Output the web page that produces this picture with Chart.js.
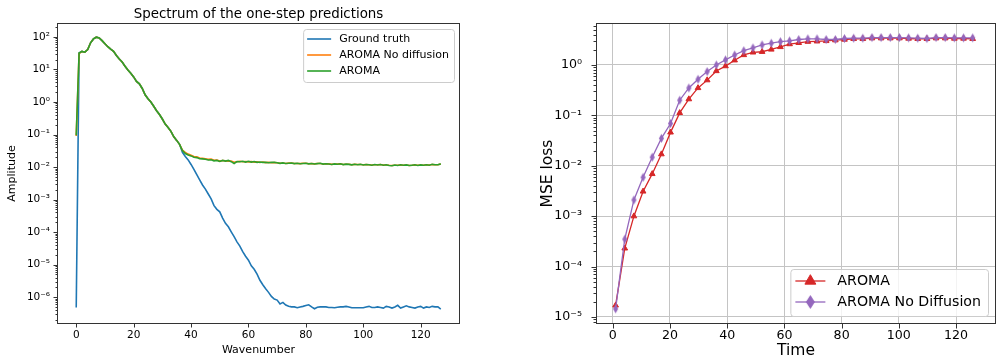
<!DOCTYPE html>
<html>
<head>
<meta charset="utf-8">
<script src="https://cdn.jsdelivr.net/npm/chart.js@4.4.0/dist/chart.umd.min.js"></script>
<style>
    html, body { margin: 0; padding: 0; background: #fff; overflow: hidden; }
    body { width: 997px; height: 361px; position: relative; }
    #specBox { position: absolute; left: 0; top: 0; }
    #lossBox { position: absolute; left: 520px; top: 0; }
</style>
</head>
<body>
<div id="specBox"><canvas id="spectrumChart" width="470" height="361"></canvas></div>
<div id="lossBox"><canvas id="lossChart" width="480" height="361"></canvas></div>
<script>
// ---- left panel: spectrum of the one-step predictions ----
const wavenumbers = Array.from({ length: 128 }, (_, i) => i);

const groundTruth = [
    4.8e-7, 32, 36, 34, 41, 66, 87, 98, 93, 77,
    62, 50, 42, 36, 27, 21, 17, 12.6, 9.6, 7.7,
    5.9, 4.3, 3.6, 2.6, 1.67, 1.26, 1.0, 0.74, 0.54, 0.41,
    0.30, 0.21, 0.165, 0.125, 0.085, 0.066, 0.05, 0.028, 0.021, 0.0166,
    0.012, 0.0085, 0.0058, 0.0040, 0.0028, 0.0021, 0.00148, 0.00105, 6.5e-4, 5.0e-4,
    4.2e-4, 2.7e-4, 1.85e-4, 1.45e-4, 1.02e-4, 7.2e-5, 5.0e-5, 3.7e-5, 2.5e-5, 1.8e-5,
    1.37e-5, 9.2e-6, 7.2e-6, 5.1e-6, 3.3e-6, 2.4e-6, 1.8e-6, 1.4e-6, 1.05e-6, 8.7e-7,
    8.1e-7, 6.2e-7, 6.9e-7, 5.7e-7, 5.2e-7, 5.0e-7, 5.0e-7, 4.7e-7, 5.0e-7, 5.2e-7,
    5.5e-7, 5.8e-7, 5.0e-7, 4.4e-7, 4.9e-7, 5.0e-7, 5.0e-7, 5.0e-7, 4.8e-7, 4.8e-7,
    4.7e-7, 4.9e-7, 5.0e-7, 5.0e-7, 5.2e-7, 5.0e-7, 4.7e-7, 4.7e-7, 4.7e-7, 4.7e-7,
    4.7e-7, 5.0e-7, 5.2e-7, 4.8e-7, 4.8e-7, 5.0e-7, 4.8e-7, 4.6e-7, 5.2e-7, 5.0e-7,
    4.6e-7, 5.0e-7, 5.6e-7, 4.6e-7, 5.0e-7, 5.4e-7, 5.0e-7, 4.8e-7, 4.6e-7, 5.0e-7,
    5.2e-7, 4.6e-7, 5.0e-7, 4.8e-7, 5.2e-7, 5.0e-7, 5.0e-7, 4.3e-7
];

const aromaNoDiffusion = [
    0.09, 31, 36, 34, 41, 66, 87, 98, 93, 77,
    62, 50, 42, 36, 27, 21, 17, 12.6, 9.6, 7.7,
    5.9, 4.3, 3.6, 2.6, 1.67, 1.26, 1.0, 0.74, 0.54, 0.41,
    0.30, 0.21, 0.165, 0.125, 0.085, 0.066, 0.05, 0.033, 0.028, 0.025,
    0.023, 0.021, 0.0205, 0.019, 0.0185, 0.018, 0.0172, 0.0176, 0.0162, 0.0165,
    0.0152, 0.0158, 0.0155, 0.0150, 0.0152, 0.0140, 0.0146, 0.0150, 0.0146, 0.0148,
    0.0144, 0.0147, 0.0142, 0.0144, 0.0138, 0.0142, 0.0137, 0.0140, 0.0136, 0.0138,
    0.0135, 0.0131, 0.0133, 0.0129, 0.0132, 0.0132, 0.0128, 0.0129, 0.0127, 0.0130,
    0.0130, 0.0126, 0.0127, 0.0125, 0.0128, 0.0129, 0.0124, 0.0125, 0.0125, 0.0121,
    0.0124, 0.0123, 0.0125, 0.0120, 0.0122, 0.0122, 0.0118, 0.0121, 0.0119, 0.0120,
    0.0117, 0.0119, 0.0118, 0.0115, 0.0118, 0.0117, 0.0119, 0.0115, 0.0116, 0.0113,
    0.0111, 0.0114, 0.0113, 0.0116, 0.0114, 0.0115, 0.0112, 0.0113, 0.0116, 0.0113,
    0.0115, 0.0114, 0.0117, 0.0115, 0.0120, 0.0118, 0.0117, 0.0124
];

const aroma = [
    0.095, 32, 36, 34, 41, 66, 87, 98, 93, 77,
    62, 50, 42, 36, 27, 21, 17, 12.6, 9.6, 7.7,
    5.9, 4.3, 3.6, 2.6, 1.67, 1.26, 1.0, 0.74, 0.54, 0.41,
    0.30, 0.21, 0.165, 0.125, 0.085, 0.066, 0.05, 0.032, 0.026, 0.0235,
    0.022, 0.020, 0.0195, 0.018, 0.0178, 0.0174, 0.0165, 0.0168, 0.0155, 0.0160,
    0.0148, 0.0160, 0.0152, 0.0160, 0.0146, 0.0129, 0.0148, 0.0146, 0.0150, 0.0142,
    0.0150, 0.0142, 0.0148, 0.0139, 0.0142, 0.0139, 0.0139, 0.0136, 0.0139, 0.0139,
    0.0136, 0.0130, 0.0134, 0.0128, 0.0131, 0.0133, 0.0127, 0.0130, 0.0126, 0.0129,
    0.0131, 0.0125, 0.0128, 0.0124, 0.0127, 0.0130, 0.0123, 0.0126, 0.0124, 0.0120,
    0.0125, 0.0122, 0.0126, 0.0119, 0.0123, 0.0121, 0.0117, 0.0122, 0.0118, 0.0121,
    0.0116, 0.0120, 0.0117, 0.0114, 0.0119, 0.0116, 0.0120, 0.0114, 0.0117, 0.0112,
    0.0110, 0.0115, 0.0112, 0.0117, 0.0113, 0.0116, 0.0111, 0.0114, 0.0117, 0.0112,
    0.0116, 0.0113, 0.0118, 0.0114, 0.0121, 0.0117, 0.0118, 0.0125
];

const specXTicks = [0, 20, 40, 60, 80, 100, 120];
const specYTicks = [1e-6, 1e-5, 1e-4, 1e-3, 1e-2, 1e-1, 1, 10, 100];

// ---- right panel: MSE loss over time ----
const timeSteps = [
    1.0, 4.2, 7.4, 10.6, 13.8, 17.0, 20.2, 23.4, 26.6, 29.8,
    33.0, 36.2, 39.4, 42.6, 45.8, 49.0, 52.2, 55.4, 58.6, 61.8,
    65.0, 68.2, 71.4, 74.6, 77.8, 81.0, 84.2, 87.4, 90.6, 93.8,
    97.0, 100.2, 103.4, 106.6, 109.8, 113.0, 116.2, 119.4, 122.6, 125.8
];

const lossAroma = [
    1.7e-5, 2.3e-4, 1.0e-3, 3.1e-3, 6.9e-3, 1.7e-2, 4.6e-2, 0.112, 0.21, 0.35,
    0.50, 0.76, 0.95, 1.24, 1.58, 1.78, 1.83, 2.03, 2.28, 2.6,
    2.75, 2.9, 2.95, 3.0, 3.1, 3.2, 3.3, 3.3, 3.4, 3.4,
    3.4, 3.4, 3.35, 3.3, 3.3, 3.4, 3.4, 3.35, 3.35, 3.3
];

const lossNoDiffusion = [
    1.45e-5, 3.5e-4, 2.1e-3, 5.9e-3, 1.48e-2, 3.5e-2, 6.9e-2, 0.20, 0.35, 0.52,
    0.74, 1.0, 1.26, 1.58, 1.92, 2.18, 2.5, 2.7, 2.9, 3.0,
    3.2, 3.3, 3.3, 3.2, 3.2, 3.35, 3.4, 3.4, 3.5, 3.5,
    3.5, 3.5, 3.45, 3.4, 3.35, 3.5, 3.5, 3.45, 3.45, 3.45
];

const lossXTicks = [0, 20, 40, 60, 80, 100, 120];
const lossYTicks = [1e-5, 1e-4, 1e-3, 1e-2, 1e-1, 1];

Chart.defaults.font.family = "'DejaVu Sans', sans-serif";
Chart.defaults.color = '#000';

const SUP = { '0': '⁰', '1': '¹', '2': '²', '3': '³', '4': '⁴', '5': '⁵', '6': '⁶', '7': '⁷', '8': '⁸', '9': '⁹', '-': '⁻' };
function powerLabel(v) {
    const e = Math.round(Math.log10(v));
    return '10' + String(e).split('').map(c => SUP[c]).join('');
}

function thinDiamond(color, w, h) {
    const c = document.createElement('canvas');
    c.width = w + 2;
    c.height = h + 2;
    const g = c.getContext('2d');
    g.beginPath();
    g.moveTo(c.width / 2, 1);
    g.lineTo(w + 1, c.height / 2);
    g.lineTo(c.width / 2, h + 1);
    g.lineTo(1, c.height / 2);
    g.closePath();
    g.fillStyle = color;
    g.fill();
    return c;
}

function pts(xs, ys) {
    return xs.map((x, i) => ({ x: x, y: ys[i] }));
}

// spines, outward tick marks and log minor ticks
const axisFrame = {
    id: 'axisFrame',
    afterDatasetsDraw(chart, args, o) {
        const { ctx, chartArea: a, scales } = chart;
        const L = Math.round(a.left) - 0.5, R = Math.round(a.right) + 0.5;
        const T = Math.round(a.top) - 0.5, B = Math.round(a.bottom) + 0.5;
        ctx.save();
        ctx.strokeStyle = o.color;
        ctx.lineWidth = 1;
        ctx.strokeRect(L, T, R - L, B - T);
        ctx.beginPath();
        scales.x.ticks.forEach(t => {
            const px = Math.round(scales.x.getPixelForValue(t.value)) + 0.5;
            ctx.moveTo(px, B); ctx.lineTo(px, B + o.major);
        });
        scales.y.ticks.forEach(t => {
            const py = Math.round(scales.y.getPixelForValue(t.value)) + 0.5;
            ctx.moveTo(L, py); ctx.lineTo(L - o.major, py);
        });
        const y = scales.y;
        for (let e = Math.floor(Math.log10(y.min)); e <= Math.ceil(Math.log10(y.max)); e++) {
            for (let m = 2; m <= 9; m++) {
                const v = m * Math.pow(10, e);
                if (v < y.min || v > y.max) continue;
                const py = Math.round(y.getPixelForValue(v)) + 0.5;
                ctx.moveTo(L, py); ctx.lineTo(L - o.minor, py);
            }
        }
        ctx.stroke();
        ctx.restore();
    }
};

// matplotlib-like legend drawn inside the axes
const boxLegend = {
    id: 'boxLegend',
    afterDraw(chart, args, o) {
        const { ctx, chartArea: a } = chart;
        ctx.save();
        ctx.font = o.fontSize + "px 'DejaVu Sans'";
        const tw = Math.max(...o.items.map(it => ctx.measureText(it.label).width));
        const w = o.padLeft + o.lineLen + o.gap + tw + o.padRight;
        const h = o.padTop + o.rowH * (o.items.length - 1) + o.padBottom;
        const x0 = a.right - o.margin - w;
        const y0 = o.corner === 'top' ? a.top + o.margin : a.bottom - o.margin - h;
        ctx.beginPath();
        ctx.roundRect(x0 + 0.5, y0 + 0.5, w, h, 3);
        ctx.fillStyle = 'rgba(255,255,255,0.8)';
        ctx.fill();
        ctx.strokeStyle = '#cccccc';
        ctx.lineWidth = 1;
        ctx.stroke();
        o.items.forEach((it, i) => {
            const cy = y0 + o.padTop + i * o.rowH;
            const lx = x0 + o.padLeft;
            ctx.strokeStyle = it.color;
            ctx.lineWidth = o.lineWidth;
            ctx.beginPath();
            ctx.moveTo(lx, cy); ctx.lineTo(lx + o.lineLen, cy);
            ctx.stroke();
            if (it.marker) {
                ctx.fillStyle = it.color;
                ctx.strokeStyle = it.color;
                ctx.lineWidth = 1;
                Chart.helpers.drawPoint(ctx, { pointStyle: it.marker, radius: it.radius || 5, rotation: 0, borderWidth: 1 }, lx + o.lineLen / 2, cy);
            }
            ctx.fillStyle = '#000';
            ctx.textBaseline = 'middle';
            ctx.textAlign = 'left';
            ctx.fillText(it.label, lx + o.lineLen + o.gap, cy);
        });
        ctx.restore();
    }
};

function createSpectrumChart() {
    const canvas = document.getElementById('spectrumChart');
    new Chart(canvas.getContext('2d'), {
        type: 'line',
        data: {
            datasets: [
                { label: 'Ground truth', data: pts(wavenumbers, groundTruth), borderColor: '#1f77b4', order: 2 },
                { label: 'AROMA No diffusion', data: pts(wavenumbers, aromaNoDiffusion), borderColor: '#ff7f0e', order: 1 },
                { label: 'AROMA', data: pts(wavenumbers, aroma), borderColor: '#2ca02c', order: 0 }
            ]
        },
        options: {
            responsive: false,
            animation: false,
            layout: { padding: { top: 24, right: 11, left: 0, bottom: 0 } },
            elements: { point: { radius: 0 }, line: { borderWidth: 1.6, tension: 0 } },
            plugins: {
                legend: { display: false },
                tooltip: { enabled: false },
                title: { display: false },
                axisFrame: { color: '#333', major: 4, minor: 2 },
                boxLegend: {
                    corner: 'top', margin: 5, fontSize: 11, padLeft: 4, padRight: 5, lineLen: 24, gap: 8,
                    padTop: 10, padBottom: 11, rowH: 16, lineWidth: 1.6,
                    items: [
                        { label: 'Ground truth', color: '#1f77b4' },
                        { label: 'AROMA No diffusion', color: '#ff7f0e' },
                        { label: 'AROMA', color: '#2ca02c' }
                    ]
                }
            },
            scales: {
                x: {
                    type: 'linear', min: -6.35, max: 133.35,
                    afterBuildTicks: s => { s.ticks = specXTicks.map(v => ({ value: v })); },
                    afterFit: s => { s.height = 38; },
                    grid: { display: false, drawTicks: false },
                    border: { display: false },
                    ticks: { padding: 6, font: { size: 10.5 }, maxRotation: 0 },
                    title: { display: true, text: 'Wavenumber', font: { size: 11 }, padding: { top: 0, bottom: 4 } }
                },
                y: {
                    type: 'logarithmic', min: 1.6e-7, max: 250,
                    afterBuildTicks: s => { s.ticks = specYTicks.map(v => ({ value: v })); },
                    afterFit: s => { s.width = 58; },
                    grid: { display: false, drawTicks: false },
                    border: { display: false },
                    ticks: { padding: 8, font: { size: 10.5 }, callback: v => powerLabel(v) },
                    title: { display: true, text: 'Amplitude', font: { size: 11 }, padding: { top: 6, bottom: 0 } }
                }
            }
        },
        plugins: [axisFrame, boxLegend, {
            id: 'axesTitle',
            afterDraw(chart) {
                const { ctx, chartArea: a } = chart;
                ctx.save();
                ctx.font = "13.4px 'DejaVu Sans'";
                ctx.fillStyle = '#000';
                ctx.textAlign = 'center';
                ctx.textBaseline = 'alphabetic';
                ctx.fillText('Spectrum of the one-step predictions', (a.left + a.right) / 2, a.top - 6);
                ctx.restore();
            }
        }]
    });
}

function createLossChart() {
    const canvas = document.getElementById('lossChart');
    const diamondPlot = thinDiamond('#9467bd', 5, 9);
    const diamondLegend = thinDiamond('#9467bd', 9, 14);
    new Chart(canvas.getContext('2d'), {
        type: 'line',
        data: {
            datasets: [
                {
                    label: 'AROMA', data: pts(timeSteps, lossAroma), borderColor: '#d62728', backgroundColor: '#d62728',
                    pointStyle: 'triangle', pointRadius: 3.3, pointBorderColor: '#d62728', pointBackgroundColor: '#d62728', order: 1
                },
                {
                    label: 'AROMA No Diffusion', data: pts(timeSteps, lossNoDiffusion), borderColor: '#9467bd', backgroundColor: '#9467bd',
                    pointStyle: diamondPlot, pointRadius: 4, order: 0
                }
            ]
        },
        options: {
            responsive: false,
            animation: false,
            layout: { padding: { top: 24, right: 2, left: 0, bottom: 0 } },
            elements: { line: { borderWidth: 1.3, tension: 0 }, point: { borderWidth: 1 } },
            plugins: {
                legend: { display: false },
                tooltip: { enabled: false },
                axisFrame: { color: '#333', major: 5, minor: 3 },
                boxLegend: {
                    corner: 'bottom', margin: 7, fontSize: 14.2, padLeft: 5, padRight: 7, lineLen: 30, gap: 12,
                    padTop: 12, padBottom: 14, rowH: 21, lineWidth: 1.3,
                    items: [
                        { label: 'AROMA', color: '#d62728', marker: 'triangle', radius: 6.3 },
                        { label: 'AROMA No Diffusion', color: '#9467bd', marker: diamondLegend }
                    ]
                }
            },
            scales: {
                x: {
                    type: 'linear', min: -5.5, max: 133.6,
                    afterBuildTicks: s => { s.ticks = lossXTicks.map(v => ({ value: v })); },
                    afterFit: s => { s.height = 38; },
                    grid: { color: '#c4c4c4', lineWidth: 1, drawTicks: false },
                    border: { display: false },
                    ticks: { padding: 5, font: { size: 12.6 }, maxRotation: 0 },
                    title: { display: true, text: 'Time', font: { size: 15.5 }, padding: { top: 0, bottom: 1 } }
                },
                y: {
                    type: 'logarithmic', min: 7.6e-6, max: 6.5,
                    afterBuildTicks: s => { s.ticks = lossYTicks.map(v => ({ value: v })); },
                    afterFit: s => { s.width = 77; },
                    grid: { color: '#c4c4c4', lineWidth: 1, drawTicks: false },
                    border: { display: false },
                    ticks: { padding: 15, font: { size: 12.6 }, callback: v => powerLabel(v) },
                    title: { display: true, text: 'MSE loss', font: { size: 15.5 }, padding: { top: 19, bottom: 0 } }
                }
            }
        },
        plugins: [axisFrame, boxLegend]
    });
}

createSpectrumChart();
createLossChart();
</script>
</body>
</html>
